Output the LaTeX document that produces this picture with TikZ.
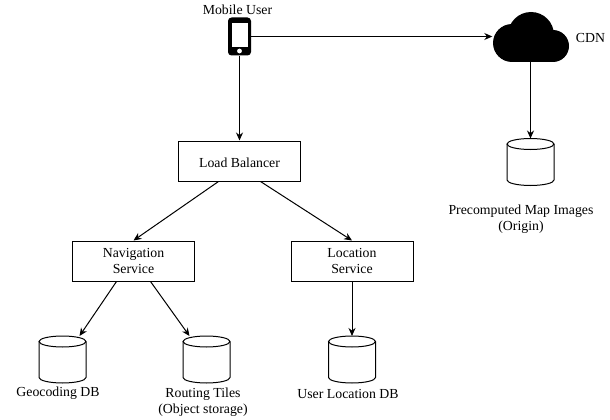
\documentclass[tikz,border=0pt]{standalone}
\usepackage{fontspec}
\setmainfont{Liberation Serif}
\usetikzlibrary{arrows.meta}

\tikzset{
  servicebox/.style={draw, line width=1pt, minimum width=122pt, minimum height=40pt, align=center, inner sep=0pt, execute at begin node={\rule{0pt}{12.5pt}}},
  dbnode/.style={minimum width=47pt, minimum height=47pt, inner sep=0pt, outer sep=0pt},
  dbline/.style={line width=1pt},
  caption/.style={align=center, inner sep=0pt},
  link/.style={line width=1pt, -{Stealth[length=8pt,width=7pt]}}
}

\begin{document}
\begin{tikzpicture}[x=1pt, y=-1pt, font=\fontsize{13.8}{16}\selectfont]
  \useasboundingbox (0,0) rectangle (610,420);

  % Phone icon
  \node[fill=black, rounded corners=3.5pt, minimum width=23pt, minimum height=38pt, inner sep=0pt] (phone) at (239.5,36.5) {};
  \fill[white] (232,23) rectangle (248,47);
  \fill[white] (239.5,51) circle (2.4);
  \node[caption] (phonelabel) at (237.5,9.5) {Mobile User};

  % Cloud icon
  \fill[black] (531,35) circle (23);
  \fill[black] (512,43) circle (19);
  \fill[black] (553,46) circle (16);
  \fill[black] (512,40) rectangle (553,62);
  \node[minimum width=76pt, minimum height=51pt, inner sep=0pt] (cdn) at (530.5,36.5) {};
  \node[caption] (cdnlabel) at (590.5,37.5) {CDN};

  % Boxes
  \node[servicebox] (balancer) at (239.5,161) {Load Balancer};
  \node[servicebox] (navigation) at (133.5,261) {Navigation\\Service};
  \node[servicebox] (location) at (352,261) {Location\\Service};

  % Databases
  \node[dbnode] (origin) at (530.5,162) {};
  \node[dbnode] (geocoding) at (62.5,359.5) {};
  \node[dbnode] (routing) at (206.5,359.5) {};
  \node[dbnode] (userdb) at (352,359.5) {};
  \foreach \db in {origin,geocoding,routing,userdb} {
    \draw[dbline] ([yshift=-5.5pt]\db.north) ellipse [x radius=23.5pt, y radius=5.5pt];
    \draw[dbline] ([yshift=-5.5pt]\db.north west) -- ([yshift=5.5pt]\db.south west)
      arc [start angle=180, end angle=360, x radius=23.5pt, y radius=5.5pt] -- ([yshift=-5.5pt]\db.north east);
  }

  % Labels under the databases
  \node[caption] (originlabel) at (521,219) {Precomputed Map Images\\(Origin)};
  \node[caption] (geolabel) at (58,393.5) {Geocoding DB};
  \node[caption] (routinglabel) at (203,402) {Routing Tiles\\(Object storage)};
  \node[caption] (userlabel) at (348,393.5) {User Location DB};

  % Connectors
  \draw[link] (phone.east) -- (cdn.west);
  \draw[link] (phone.south) -- (balancer.north);
  \draw[link] (cdn.south) -- (origin.north);
  \draw[link] ([xshift=-21pt]balancer.south) -- (navigation.north);
  \draw[link] ([xshift=21pt]balancer.south) -- (location.north);
  \draw[link] ([xshift=-17pt]navigation.south) -- ([xshift=17pt]geocoding.north);
  \draw[link] ([xshift=17pt]navigation.south) -- ([xshift=-17pt]routing.north);
  \draw[link] (location.south) -- (userdb.north);
\end{tikzpicture}
\end{document}
